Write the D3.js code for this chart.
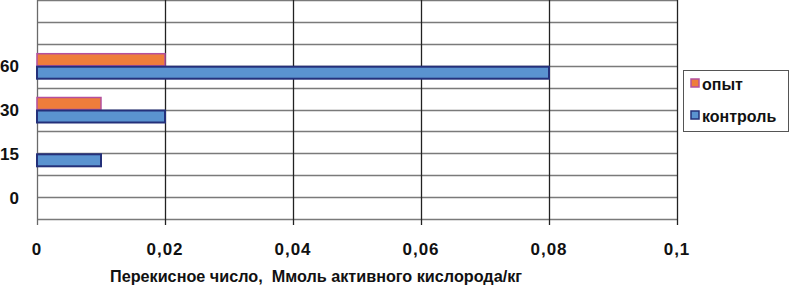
<!DOCTYPE html>
<html>
<head>
<meta charset="utf-8">
<script src="https://cdn.jsdelivr.net/npm/d3@7"></script>
<style>
  body { margin: 0; background: #fff; }
  text { font-family: "Liberation Sans", Arial, sans-serif; font-weight: bold; fill: #111; white-space: pre; }
</style>
</head>
<body>
<div id="chart"></div>
<script>
// categories from bottom to top, the top slot of the chart stays empty
const categories = ["0", "15", "30", "60"];
const seriesNames = ["опыт", "контроль"];
const opyt = [0, 0, 0.01, 0.02];
const kontrol = [0, 0.01, 0.02, 0.08];
const xTicks = [0, 0.02, 0.04, 0.06, 0.08, 0.1];
const xTitle = "Перекисное число,  Ммоль активного кислорода/кг";

const width = 789, height = 286;
const plotLeft = 37, plotRight = 677, plotTop = 0, plotBottom = 219;

const fills = { "опыт": "#ee7d3b", "контроль": "#5a93d0" };
const strokes = { "опыт": "#b4509e", "контроль": "#24307a" };

let svg = d3.select("#chart").append("svg")
  .attr("width", width)
  .attr("height", height);

let x = d3.scaleLinear().domain([0, 0.1]).range([plotLeft, plotRight]);
let y = d3.scaleBand().domain(categories.concat(["_"])).range([plotBottom, plotTop]).padding(0);
let bw = y.bandwidth();
let inner = d3.scaleBand().domain(seriesNames).range([bw / 2 - 13, bw / 2 + 13]);

/* horizontal grid lines: band edges and band centres */
let hLines = [plotTop];
y.domain().forEach(c => { hLines.push(y(c) + bw); hLines.push(y(c) + bw / 2); });
svg.append("g").selectAll("line")
  .data(hLines).enter()
  .append("line")
  .attr("x1", plotLeft).attr("x2", plotRight)
  .attr("y1", d => Math.round(d) + 0.5).attr("y2", d => Math.round(d) + 0.5)
  .attr("stroke", "#7a7a7a")
  .attr("stroke-width", 1.3);

/* vertical grid lines + tick marks */
svg.append("g").selectAll("line")
  .data(xTicks).enter()
  .append("line")
  .attr("x1", d => Math.round(x(d)) + 0.5).attr("x2", d => Math.round(x(d)) + 0.5)
  .attr("y1", plotTop).attr("y2", plotBottom + 6)
  .attr("stroke", d => d === 0 ? "#6a6a6a" : "#222")
  .attr("stroke-width", 1.3);

/* bars */
let rows = categories.map((c, i) => ({ cat: c, values: [
  { name: "опыт", v: opyt[i] },
  { name: "контроль", v: kontrol[i] }
]}));

svg.append("g").selectAll("g")
  .data(rows).enter()
  .append("g")
  .attr("transform", d => `translate(0, ${y(d.cat)})`)
  .selectAll("rect")
  .data(d => d.values.filter(v => v.v > 0)).enter()
  .append("rect")
  .attr("x", x(0))
  .attr("y", d => inner(d.name) + 1)
  .attr("width", d => x(d.v) - x(0))
  .attr("height", inner.bandwidth() - 1)
  .attr("fill", d => fills[d.name])
  .attr("stroke", d => strokes[d.name])
  .attr("stroke-width", d => d.name === "контроль" ? 2 : 1.5);

/* axis labels */
let fmt = d => d === 0 ? "0" : String(d).replace(".", ",");
svg.append("g").selectAll("text")
  .data(xTicks).enter()
  .append("text")
  .attr("x", d => x(d))
  .attr("y", 255)
  .attr("text-anchor", "middle")
  .style("font-size", "17px")
  .style("letter-spacing", "1px")
  .text(fmt);

svg.append("g").selectAll("text")
  .data(categories).enter()
  .append("text")
  .attr("x", 19)
  .attr("y", d => y(d) + bw / 2 + 6.5)
  .attr("text-anchor", "end")
  .style("font-size", "17px")
  .text(d => d);

svg.append("text")
  .attr("x", 110)
  .attr("y", 282)
  .attr("textLength", 412)
  .attr("lengthAdjust", "spacingAndGlyphs")
  .style("font-size", "16px")
  .text(xTitle);

/* legend */
let legend = svg.append("g").attr("transform", "translate(683, 70)");
legend.append("rect")
  .attr("x", 0.5).attr("y", 0.5)
  .attr("width", 105).attr("height", 61)
  .attr("fill", "#fff")
  .attr("stroke", "#555")
  .attr("stroke-width", 1);

let items = legend.selectAll(".item")
  .data(seriesNames).enter()
  .append("g")
  .attr("class", "item")
  .attr("transform", (d, i) => `translate(8, ${15 + i * 32})`);

items.append("rect")
  .attr("x", 0).attr("y", -6)
  .attr("width", 8).attr("height", 8)
  .attr("fill", d => fills[d])
  .attr("stroke", d => strokes[d])
  .attr("stroke-width", 1.5);

items.append("text")
  .attr("x", 11)
  .attr("y", 5)
  .style("font-size", "16px")
  .text(d => d);
</script>
</body>
</html>
